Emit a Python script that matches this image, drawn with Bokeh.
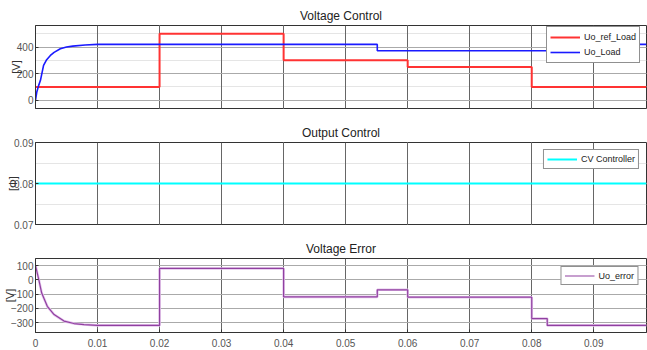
from bokeh.plotting import figure
from bokeh.layouts import column
from bokeh.models import FixedTicker, Range1d, LinearAxis, Legend, LegendItem, Grid
from bokeh.embed import file_html
from bokeh.resources import INLINE

# ---- data ----
x_ticks = [0, 0.01, 0.02, 0.03, 0.04, 0.05, 0.06, 0.07, 0.08, 0.09]
x_tick_labels = ["0", "0.01", "0.02", "0.03", "0.04", "0.05", "0.06", "0.07", "0.08", "0.09"]

ref_t = [0, 0.02, 0.04, 0.06, 0.08, 0.0985]
ref_v = [100, 500, 300, 250, 100, 100]

load_t = [0, 0.0002, 0.0005, 0.0008, 0.0013, 0.0018, 0.0024, 0.003, 0.004, 0.005,
          0.006, 0.008, 0.01, 0.0551, 0.0551, 0.0825, 0.0825, 0.0985]
load_v = [0, 60, 110, 150, 262, 305, 337, 360, 387, 400,
          407, 415, 420, 420, 372, 372, 420, 420]

cv_t = [0, 0.0985]
cv_v = [0.08, 0.08]

err_t = [0, 0.00054, 0.001, 0.0019, 0.003, 0.0046, 0.0062, 0.0078, 0.01, 0.02, 0.02,
         0.04, 0.04, 0.0551, 0.0551, 0.06, 0.06, 0.08, 0.08, 0.0825, 0.0825, 0.0985]
err_v = [100, 0, -93, -186, -244, -290, -307, -314, -320, -320, 80,
         80, -120, -120, -70, -70, -122, -122, -272, -272, -320, -320]

y1_ticks = [0, 200, 400]
y2_ticks = [0.07, 0.08, 0.09]
y2_labels = ["0.07", "0.08", "0.09"]
y3_ticks = [100, 0, -100, -200, -300]

FONT = "Liberation Sans"
TICK_COLOR = "#555555"
W = 647


def make_fig(title, height, yr, yticks, ylabel, show_x, bottom, ylabels=None):
    p = figure(width=W, height=height, output_backend="svg", toolbar_location=None,
               x_range=Range1d(0, 0.0985), y_range=Range1d(*yr),
               min_border_left=27, min_border_right=1, min_border_top=25,
               min_border_bottom=bottom,
               x_axis_location=None, y_axis_location=None)
    p.title.text = title
    p.title.align = "center"
    p.title.text_font = FONT
    p.title.text_font_size = "12px"
    p.title.text_font_style = "normal"
    p.title.text_color = "#222222"
    p.title.standoff = 5
    p.title.offset = 0
    p.outline_line_color = "#333333"
    p.outline_line_width = 1
    p.background_fill_color = "white"
    p.border_fill_color = "white"

    xtick = FixedTicker(ticks=x_ticks)
    ya = LinearAxis(ticker=FixedTicker(ticks=yticks))
    if ylabels:
        ya.major_label_overrides = {t: l for t, l in zip(yticks, ylabels)}
    axes = [ya]
    if show_x:
        xa = LinearAxis(ticker=xtick)
        xa.major_label_overrides = {t: l for t, l in zip(x_ticks, x_tick_labels)}
        axes.append(xa)
    for ax in axes:
        ax.major_tick_in = 3
        ax.major_tick_out = 0
        ax.minor_tick_line_color = None
        ax.axis_line_color = "#333333"
        ax.major_tick_line_color = "#333333"
        ax.major_label_text_font = FONT
        ax.major_label_text_font_size = "10px"
        ax.major_label_text_color = TICK_COLOR
        ax.major_label_standoff = 2
    ya.axis_label = ylabel
    ya.axis_label_text_font = FONT
    ya.axis_label_text_font_size = "11px"
    ya.axis_label_text_font_style = "normal"
    ya.axis_label_text_color = "#333333"
    ya.axis_label_standoff = -8
    p.add_layout(ya, "left")
    if show_x:
        axes[1].major_label_standoff = 6
        p.add_layout(axes[1], "below")

    p.add_layout(Grid(dimension=0, ticker=xtick, grid_line_color="#666666", grid_line_width=1))
    p.add_layout(Grid(dimension=1, ticker=ya.ticker, grid_line_color="#aaaaaa", grid_line_width=1))
    return p


# ---- Panel 1 ----
p1 = make_fig("Voltage Control", 117, (-62, 562), y1_ticks, "[V]", False, 9)
r_ref = p1.step(ref_t, ref_v, mode="after", line_color="#ff3333", line_width=2)
r_load = p1.line(load_t, load_v, line_color="#1a1aff", line_width=1.6)
leg1 = Legend(items=[LegendItem(label="Uo_ref_Load", renderers=[r_ref]),
                     LegendItem(label="Uo_Load", renderers=[r_load])],
              location=(511, 45))
p1.add_layout(leg1, "center")

# ---- Panel 2 ----
p2 = make_fig("Output Control", 116, (0.07, 0.09), y2_ticks, "[Φ]", False, 9, y2_labels)
r_cv = p2.line(cv_t, cv_v, line_color="#00ffff", line_width=2)
leg2 = Legend(items=[LegendItem(label="CV Controller", renderers=[r_cv])],
              location="top_right")
p2.add_layout(leg2, "center")

# ---- Panel 3 ----
p3 = make_fig("Voltage Error", 117, (-370, 150), y3_ticks, "[V]", True, 18)
p3.line(err_t, err_v, line_color="#e4c4ec", line_width=2.6)
r_err = p3.line(err_t, err_v, line_color="#9040a0", line_width=1.2)
leg3 = Legend(items=[LegendItem(label="Uo_error", renderers=[r_err])],
              location="top_right")
p3.add_layout(leg3, "center")

for lg, m, h in ((leg1, 0, 14), (leg2, 7, 12), (leg3, 8, 11)):
    lg.border_line_color = "#222222"
    lg.border_line_width = 1
    lg.background_fill_color = "white"
    lg.background_fill_alpha = 1
    lg.label_text_font = FONT
    lg.label_text_font_size = "9px"
    lg.label_text_color = "#222222"
    lg.glyph_width = 30
    lg.glyph_height = h
    lg.label_height = h
    lg.label_standoff = 4
    lg.spacing = 1
    lg.padding = 3
    lg.margin = m

layout = column(p1, p2, p3)
open("out.html", "w").write(file_html(layout, INLINE))
